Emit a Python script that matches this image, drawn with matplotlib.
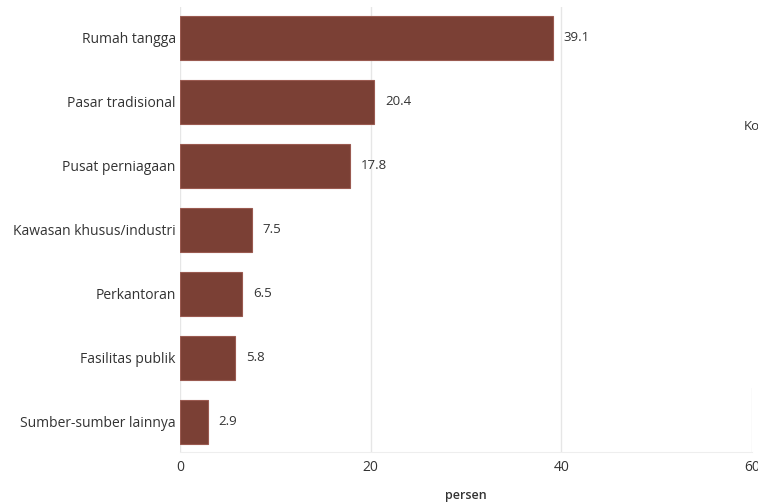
import matplotlib.pyplot as plt
from matplotlib.patches import Rectangle

plt.rcParams['font.family'] = ['Open Sans', 'DejaVu Sans']

categories = ["Rumah tangga", "Pasar tradisional", "Pusat perniagaan",
              "Kawasan khusus/industri", "Perkantoran", "Fasilitas publik",
              "Sumber-sumber lainnya"]
values = [39.1, 20.4, 17.8, 7.5, 6.5, 5.8, 2.9]
xticks = [0, 20, 40, 60]

bar_color = "#7b4035"
text_color = "#333333"

fig = plt.figure(figsize=(7.58, 5.04), dpi=100)
ax = fig.add_axes([180 / 758, 1 - 452 / 504, 572 / 758, 445 / 504])

pos = list(range(len(categories)))
ax.barh(pos, values, height=0.69, color=bar_color, edgecolor="#9a5a50",
        linewidth=0.8, zorder=3)

for p, v in zip(pos, values):
    ax.annotate(f"{v:.1f}", (v, p), xytext=(8, 0), textcoords="offset points",
                va="center", ha="left", fontsize=9.5, color=text_color)

ax.set_yticks(pos)
ax.set_yticklabels(categories, fontsize=10, color=text_color)
ax.set_ylim(6.47, -0.48)
ax.set_xlim(0, 60)
ax.set_xticks(xticks)
ax.set_xticklabels([str(t) for t in xticks], fontsize=10, color=text_color)
ax.tick_params(length=0, pad=6)
ax.tick_params(axis='y', pad=3)

ax.grid(axis='x', color="#e6e6e6", linewidth=1, zorder=0)
for s in ["top", "right", "left"]:
    ax.spines[s].set_visible(False)
ax.spines["bottom"].set_color("#eeeeee")

ax.set_xlabel("persen", fontsize=9, fontweight="semibold", color=text_color,
              va="center")
ax.xaxis.set_label_coords(0.5, -0.097)

# legend area cut off at the right edge
fig.patches.append(Rectangle((742 / 758, 1 - 388 / 504), 16 / 758, 388 / 504,
                             transform=fig.transFigure, facecolor="white",
                             edgecolor="none", zorder=10))
fig.text(744 / 758, 1 - 127 / 504, "Ko", fontsize=9.5, color=text_color,
         va="center", ha="left", zorder=11)

fig.savefig("out.png", dpi=100, facecolor="white")
